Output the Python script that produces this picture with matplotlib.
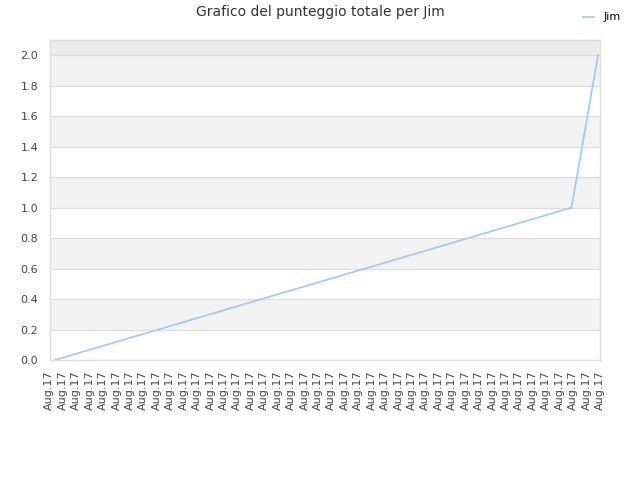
import matplotlib
matplotlib.use('Agg')
import matplotlib.pyplot as plt

# data
n_labels = 42
tick_labels = ['Aug.17'] * n_labels
point_idx = [0, 39, 41]        # positions that carry a value
scores = [0.0, 1.0, 2.0]        # punteggio totale di Jim
y_ticks = [0.0, 0.2, 0.4, 0.6, 0.8, 1.0, 1.2, 1.4, 1.6, 1.8, 2.0]

W, H = 640, 480
fig = plt.figure(figsize=(6.4, 4.8), dpi=100)
ax = fig.add_axes([50 / W, 120 / H, 550 / W, 320 / H])

# alternating bands
ax.axhspan(2.0, 2.1, color='#ececec', zorder=0, lw=0)
for i in range(len(y_ticks) - 1):
    if i % 2 == 1:
        ax.axhspan(y_ticks[i], y_ticks[i + 1], color='#f3f3f3', zorder=0, lw=0)
for y in y_ticks[1:]:
    ax.axhline(y, color='#dddddd', lw=0.8, zorder=1)

line, = ax.plot(point_idx, scores, color='#9ccaf4', lw=1.2, zorder=3, label='Jim')

ax.set_ylim(0, 2.1)
ax.set_xlim(-0.38, 41.15)
ax.set_yticks(y_ticks)
ax.set_yticklabels(['%.1f' % v for v in y_ticks])
ax.set_xticks([])
ax.tick_params(axis='y', length=0, labelsize=8, colors='#444444', pad=8.5)
for s in ax.spines.values():
    s.set_color('#dddddd')
    s.set_linewidth(1)

# the category labels run a little wider than the plotted points,
# so they sit on their own invisible axis
lab = fig.add_axes([40 / W, 120 / H, 570 / W, 320 / H], frameon=False)
lab.patch.set_alpha(0)
lab.set_xlim(-0.6925, 41.75)
lab.set_xticks(range(n_labels))
lab.set_xticklabels(tick_labels, rotation=90, ha='center')
lab.set_yticks([])
lab.tick_params(axis='x', length=0, labelsize=8, colors='#444444', pad=7.5)

fig.suptitle('Grafico del punteggio totale per Jim', x=0.5, y=0.99,
             fontsize=10, color='#333333')
fig.legend(handles=[line], loc='upper right', bbox_to_anchor=(0.985, 0.995),
           frameon=False, fontsize=8, handlelength=1.0, handletextpad=0.8)

fig.savefig('out.png', dpi=100)
